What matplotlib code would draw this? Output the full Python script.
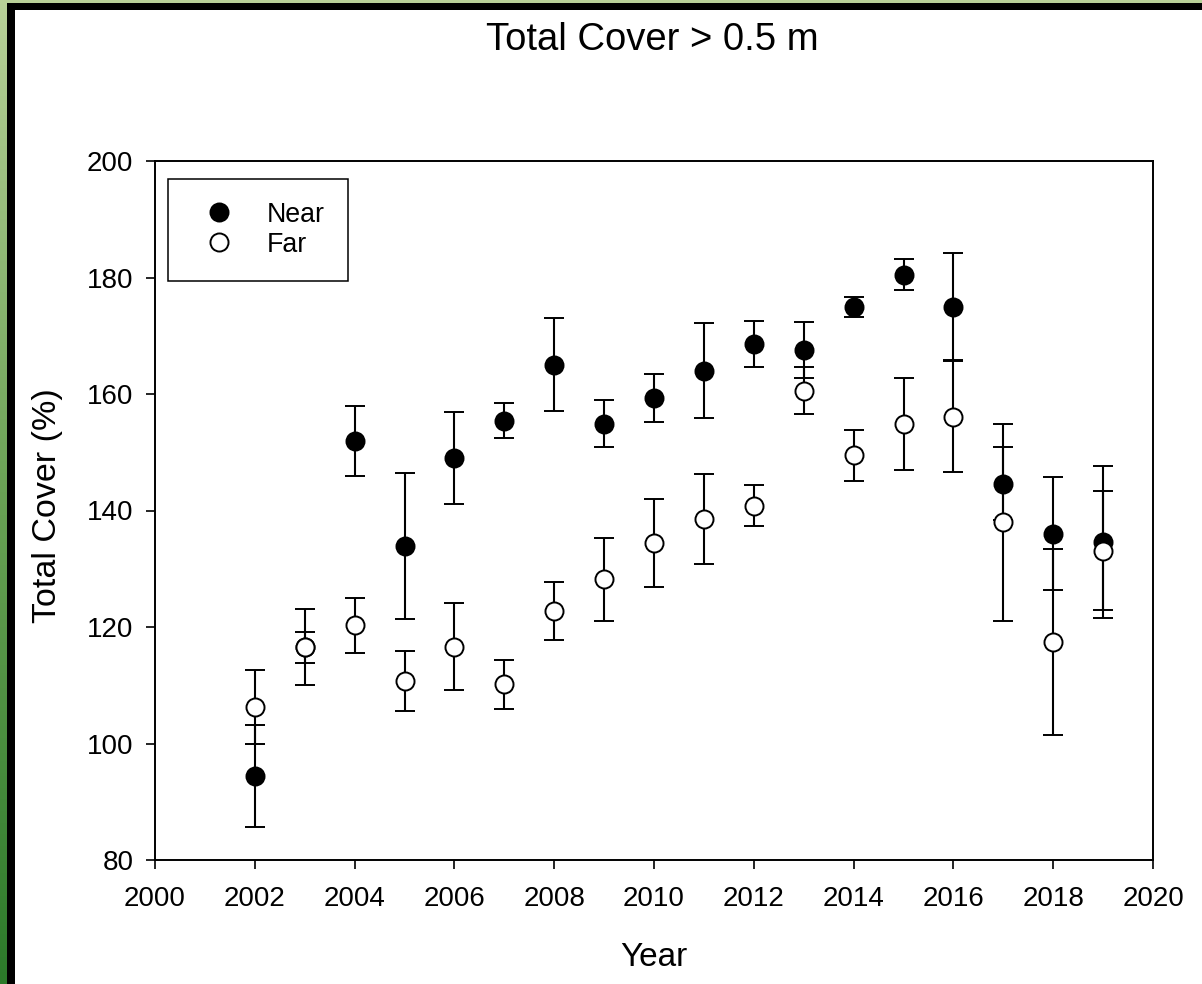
import numpy as np
import matplotlib
matplotlib.use("Agg")
import matplotlib.pyplot as plt
from matplotlib.lines import Line2D
from matplotlib.patches import Rectangle

plt.rcParams["font.family"] = ["Liberation Sans", "DejaVu Sans"]

# values (mean +/- error)
years = [2002, 2003, 2004, 2005, 2006, 2007, 2008, 2009, 2010,
         2011, 2012, 2013, 2014, 2015, 2016, 2017, 2018, 2019]
near_mean = [94.4, 116.5, 152.0, 133.9, 149.0, 155.4, 165.0, 154.9, 159.3,
             164.0, 168.6, 167.6, 175.0, 180.5, 175.0, 144.6, 136.0, 134.6]
near_err = [8.7, 2.6, 6.0, 12.5, 7.9, 3.0, 8.0, 4.0, 4.1,
            8.2, 3.9, 4.8, 1.7, 2.7, 9.2, 6.3, 9.7, 13.1]
far_mean = [106.3, 116.6, 120.3, 110.7, 116.6, 110.2, 122.8, 128.2, 134.4,
            138.5, 140.8, 160.6, 149.5, 154.8, 156.1, 138.0, 117.4, 133.1]
far_err = [6.3, 6.5, 4.7, 5.2, 7.5, 4.2, 5.0, 7.1, 7.5,
           7.7, 3.5, 4.1, 4.4, 7.9, 9.5, 16.9, 16.0, 10.2]

xticks = list(range(2000, 2021, 2))
yticks = list(range(80, 201, 20))

W, H = 1202, 984
fig = plt.figure(figsize=(W / 100, H / 100), dpi=100)
fig.patch.set_facecolor("white")

# green gradient strip on the left + black frame (slide-style border)
gax = fig.add_axes([0, 0, 7 / W, 1])
grad = np.linspace(0, 1, 256).reshape(-1, 1)
cmap = matplotlib.colors.LinearSegmentedColormap.from_list(
    "g", ["#b9d199", "#6aa255", "#2c7a2a"])
gax.imshow(grad, aspect="auto", cmap=cmap, extent=[0, 1, 0, 1], origin="upper")
gax.axis("off")
fig.patches.append(Rectangle((0, 1 - 3 / H), 1, 3 / H, transform=fig.transFigure,
                             facecolor="#b9d199", edgecolor="none", zorder=0))
fig.patches.append(Rectangle((7 / W, 0), 8 / W, 1 - 3 / H, transform=fig.transFigure,
                             facecolor="black", edgecolor="none", zorder=1))
fig.patches.append(Rectangle((7 / W, 1 - 10 / H), 1, 7 / H, transform=fig.transFigure,
                             facecolor="black", edgecolor="none", zorder=1))

ax = fig.add_axes([155 / W, (H - 860) / H, 998 / W, 699 / H])

ms = 13
ax.errorbar(years, near_mean, yerr=near_err, fmt="o", color="black",
            markerfacecolor="black", markeredgecolor="black", markersize=ms,
            markeredgewidth=1.4, elinewidth=1.5, capsize=7, capthick=1.5, zorder=2)
ax.errorbar(years, far_mean, yerr=far_err, fmt="o", color="black",
            markerfacecolor="white", markeredgecolor="black", markersize=ms,
            markeredgewidth=1.4, elinewidth=1.5, capsize=7, capthick=1.5, zorder=3)

ax.set_xlim(2000, 2020)
ax.set_ylim(80, 200)
ax.set_xticks(xticks)
ax.set_yticks(yticks)
ax.tick_params(direction="out", length=6.5, width=1.2, labelsize=20,
               top=False, right=False)
ax.tick_params(axis="x", pad=12)
ax.tick_params(axis="y", pad=9)
for s in ax.spines.values():
    s.set_linewidth(1.4)

handles = [
    Line2D([], [], ls="none", marker="o", ms=ms, mfc="black", mec="black", mew=1.4),
    Line2D([], [], ls="none", marker="o", ms=ms, mfc="white", mec="black", mew=1.4),
]
leg = ax.legend(handles, ["Near", "Far"], loc="upper left",
                bbox_to_anchor=(13 / 998, (860 - 179) / 699), fontsize=19.3,
                frameon=True, fancybox=False, framealpha=1, edgecolor="black",
                borderpad=0.85, labelspacing=0.15, handlelength=2.1, handletextpad=0.75,
                borderaxespad=0)
leg.get_frame().set_linewidth(1.1)

fig.text(652 / W, 1 - 40 / H, "Total Cover > 0.5 m", ha="center", va="center", fontsize=27.5)
fig.text(48 / W, 1 - 506 / H, "Total Cover (%)", ha="center", va="center",
         rotation=90, fontsize=24.5)
fig.text(654 / W, 1 - 957 / H, "Year", ha="center", va="center", fontsize=24)

fig.savefig("out.png", dpi=100)
